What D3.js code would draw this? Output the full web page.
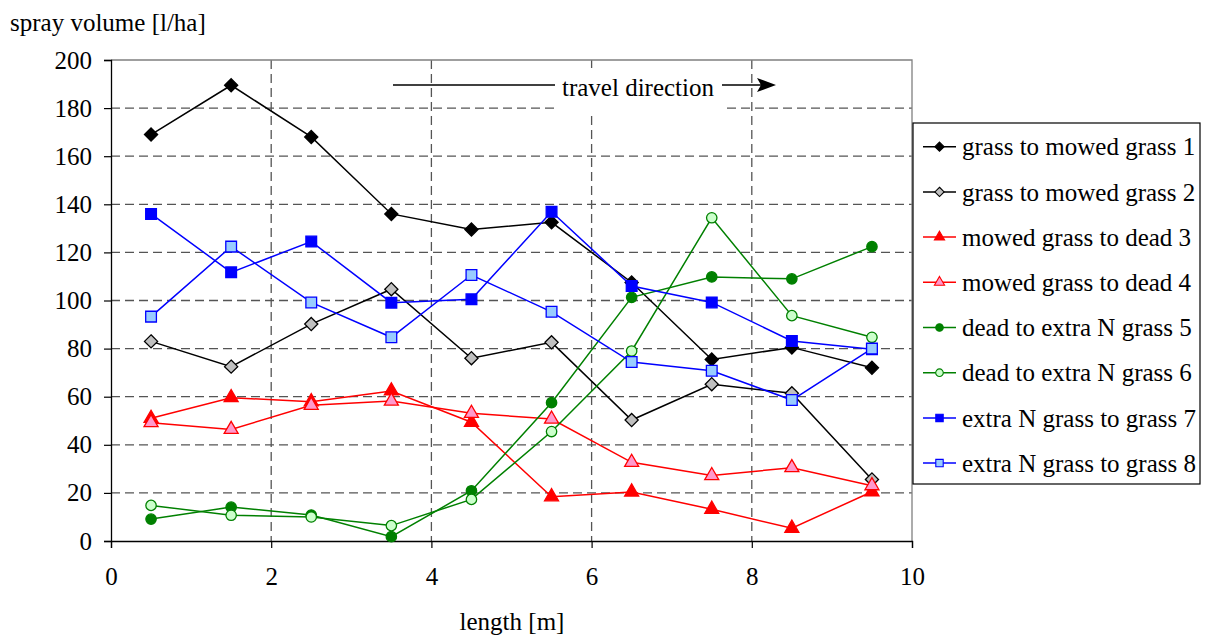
<!DOCTYPE html>
<html><head><meta charset="utf-8">
<script src="https://cdn.jsdelivr.net/npm/d3@7"></script>
</head>
<body style="margin:0"><svg id="c" width="1205" height="637"></svg>
<script>
const xValues = [0.5,1.5,2.5,3.5,4.5,5.5,6.5,7.5,8.5,9.5];
const seriesNames = ["grass to mowed grass 1","grass to mowed grass 2","mowed grass to dead 3","mowed grass to dead 4","dead to extra N grass 5","dead to extra N grass 6","extra N grass to grass 7","extra N grass to grass 8"];
const s1 = [169,189.5,168,136,129.5,132.5,107.5,75.5,80.5,72];
const s2 = [83,72.5,90.2,104.7,76,82.6,50.3,65.2,61.4,25.6];
const s3 = [51,59.6,57.9,62.4,49.4,18.4,20.4,13.2,5.3,20.5];
const s4 = [49.2,46.4,56.4,58.2,53.1,50.7,32.7,27.2,30.5,23];
const s5 = [9.1,14.1,10.8,1.8,20.9,57.5,101.3,109.8,109,122.4];
const s6 = [14.8,10.7,10,6.4,17.3,45.5,79,134.4,93.7,84.7];
const s7 = [136,111.7,124.5,99.1,100.5,136.9,106,99.2,83.2,79.7];
const s8 = [93.3,122.4,99.2,84.7,110.6,95.3,74.4,70.8,58.6,80];
const xTicks = [0,2,4,6,8,10];
const yTicks = [0,20,40,60,80,100,120,140,160,180,200];
const yLabel = "spray volume [l/ha]";
const xLabel = "length [m]";
const annotation = "travel direction";

const styles = [
  {line:"#000",shape:"diamond",fill:"#000",stroke:"#000"},
  {line:"#000",shape:"diamond",fill:"#c0c0c0",stroke:"#000"},
  {line:"#ff0000",shape:"triangle",fill:"#ff0000",stroke:"#ff0000"},
  {line:"#ff0000",shape:"triangle",fill:"#ff99cc",stroke:"#ff0000"},
  {line:"#008000",shape:"circle",fill:"#008000",stroke:"#008000"},
  {line:"#008000",shape:"circle",fill:"#ccffcc",stroke:"#008000"},
  {line:"#0000ff",shape:"square",fill:"#0000ff",stroke:"#0000ff"},
  {line:"#0000ff",shape:"square",fill:"#99ccff",stroke:"#0000ff"}
];
const data = [s1,s2,s3,s4,s5,s6,s7,s8];

const svg = d3.select("#c");
const L=111,R=912,T=60,B=541;
const x = d3.scaleLinear().domain([0,10]).range([L,R]);
const y = d3.scaleLinear().domain([0,200]).range([B,T]);

function txt(sel){ return sel.attr("font-family","Liberation Serif").style("font-family","Liberation Serif").style("font-size","25px").attr("fill","#000"); }

// grid
const g = svg.append("g");
g.selectAll(".hg").data(yTicks.filter(v=>v>0&&v<200)).enter().append("line")
 .attr("x1",L).attr("x2",R).attr("y1",d=>y(d)).attr("y2",d=>y(d))
 .attr("stroke","#555").attr("stroke-width",1.3).attr("stroke-dasharray","9,5");
g.selectAll(".vg").data(xTicks.filter(v=>v>0&&v<10)).enter().append("line")
 .attr("y1",T).attr("y2",B).attr("x1",d=>x(d)).attr("x2",d=>x(d))
 .attr("stroke","#555").attr("stroke-width",1.3).attr("stroke-dasharray","9,5");
svg.append("path").attr("d",`M${L},${T}H${R}V${B}`).attr("fill","none").attr("stroke","#808080").attr("stroke-width",1.3);

// annotation
svg.append("rect").attr("x",557).attr("y",68).attr("width",168).attr("height",44).attr("fill","#fff");
svg.append("line").attr("x1",393).attr("x2",555).attr("y1",85).attr("y2",85).attr("stroke","#000").attr("stroke-width",1.3);
svg.append("line").attr("x1",722).attr("x2",762).attr("y1",85).attr("y2",85).attr("stroke","#000").attr("stroke-width",1.3);
svg.append("path").attr("d","M776,85L757,78L761,85L757,92Z").attr("fill","#000");
txt(svg.append("text").attr("x",638).attr("y",96).attr("text-anchor","middle")).text(annotation);

// axes
const xAxis = svg.append("g").attr("transform",`translate(0,${B})`)
 .call(d3.axisBottom(x).tickValues(xTicks).tickSize(7).tickFormat(d3.format("d")));
xAxis.attr("font-family",null).attr("font-size",null);
xAxis.select(".domain").attr("stroke","#000").attr("stroke-width",1.3);
xAxis.selectAll(".tick line").attr("stroke","#000").attr("stroke-width",1.2);
txt(xAxis.selectAll(".tick text")).attr("y",26).attr("dy","0.71em");

const yAxis = svg.append("g").attr("transform",`translate(${L},0)`)
 .call(d3.axisLeft(y).tickValues(yTicks).tickSize(7).tickFormat(d3.format("d")));
yAxis.attr("font-family",null).attr("font-size",null);
yAxis.select(".domain").attr("stroke","#000").attr("stroke-width",1.3);
yAxis.selectAll(".tick line").attr("stroke","#000").attr("stroke-width",1.2);
txt(yAxis.selectAll(".tick text")).attr("x",-19);

txt(svg.append("text").attr("x",10).attr("y",31)).text(yLabel);
txt(svg.append("text").attr("x",512).attr("y",630).attr("text-anchor","middle")).text(xLabel);

// markers
function sym(shape,size){
  const t = {diamond:d3.symbolDiamond2||d3.symbolDiamond,triangle:d3.symbolTriangle,circle:d3.symbolCircle,square:d3.symbolSquare}[shape];
  return d3.symbol().type(t).size(size);
}
const sizes = {diamond:110,triangle:85,circle:85,square:115};
const line = d3.line().x((d,i)=>x(xValues[i])).y(d=>y(d));
data.forEach((s,k)=>{
  const st = styles[k];
  const gs = svg.append("g");
  gs.append("path").attr("d",line(s)).attr("fill","none").attr("stroke",st.line).attr("stroke-width",1.5);
  gs.selectAll("path.m").data(s).enter().append("path").attr("class","m")
    .attr("transform",(d,i)=>`translate(${x(xValues[i])},${y(d)})`)
    .attr("d",sym(st.shape,sizes[st.shape])())
    .attr("fill",st.fill).attr("stroke",st.stroke).attr("stroke-width",1.3);
});

// legend
const lg = svg.append("g");
lg.append("rect").attr("x",913).attr("y",123).attr("width",287).attr("height",361).attr("fill","#fff").attr("stroke","#000").attr("stroke-width",1.2);
const lsizes = {diamond:55,triangle:45,circle:45,square:55};
seriesNames.forEach((n,k)=>{
  const st = styles[k];
  const cy = 146.7 + k*45.2;
  lg.append("line").attr("x1",923).attr("x2",956).attr("y1",cy).attr("y2",cy).attr("stroke",st.line).attr("stroke-width",1.5);
  lg.append("path").attr("transform",`translate(939.5,${cy})`).attr("d",sym(st.shape,lsizes[st.shape])())
    .attr("fill",st.fill).attr("stroke",st.stroke).attr("stroke-width",1.1);
  txt(lg.append("text").attr("x",962).attr("y",cy).attr("dy","0.35em")).text(n);
});
</script></body></html>
